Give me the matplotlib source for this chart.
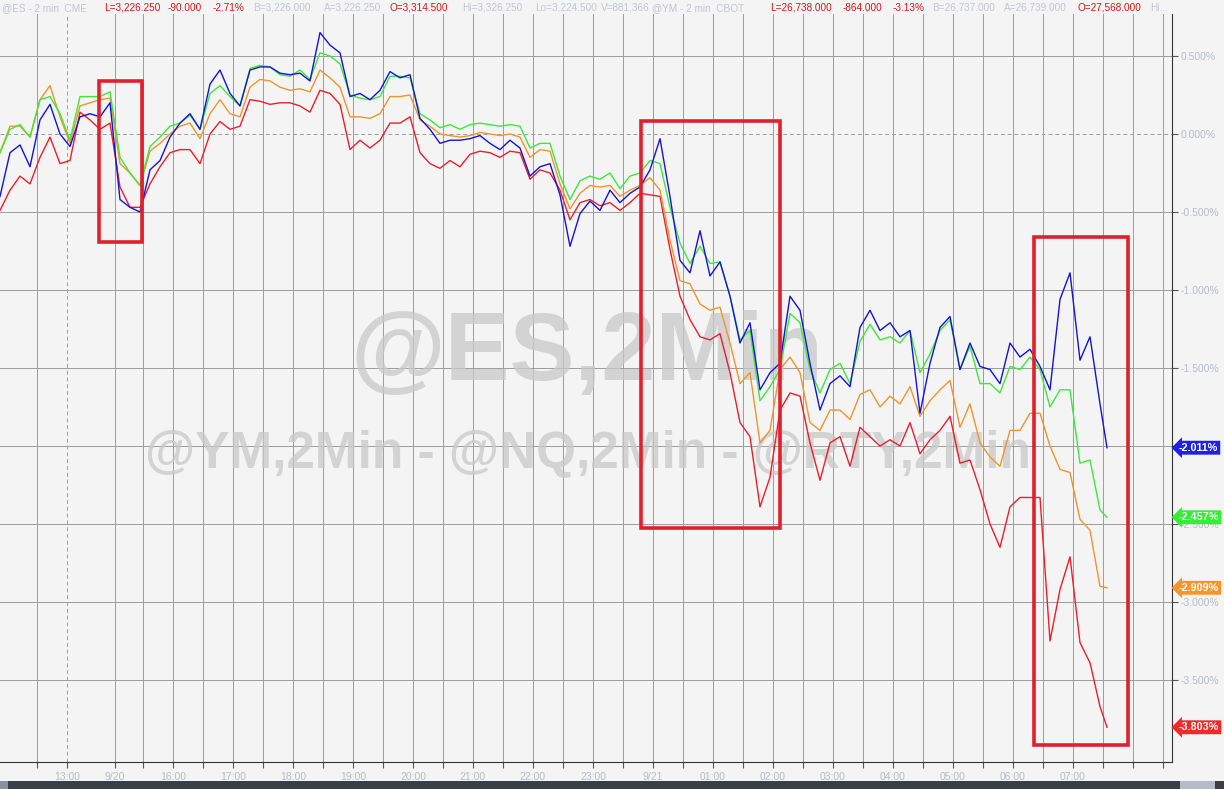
import matplotlib
matplotlib.use("Agg")
import matplotlib.pyplot as plt
from matplotlib.patches import Rectangle
from matplotlib.transforms import blended_transform_factory

# minutes from chart start (2-min bars, sampled every 10 min)
minutes = list(range(0, 1101, 10)) + [1107]

blue = [-0.40, -0.12, -0.07, -0.21, 0.09, 0.19, 0.00, -0.08, 0.11, 0.13,
        0.11, 0.20, -0.42, -0.47, -0.50, -0.23, -0.17, -0.02, 0.07, 0.13,
        0.03, 0.32, 0.41, 0.26, 0.18, 0.41, 0.43, 0.43, 0.39, 0.38,
        0.39, 0.34, 0.65, 0.57, 0.52, 0.24, 0.26, 0.22, 0.28, 0.40,
        0.36, 0.38, 0.10, 0.03, -0.06, -0.04, -0.04, -0.03, -0.01, -0.06,
        -0.10, -0.04, -0.09, -0.27, -0.21, -0.19, -0.39, -0.72, -0.51, -0.43,
        -0.49, -0.36, -0.44, -0.38, -0.34, -0.23, -0.03, -0.40, -0.81, -0.89,
        -0.62, -0.91, -0.82, -1.04, -1.34, -1.21, -1.64, -1.53, -1.47, -1.04,
        -1.13, -1.47, -1.77, -1.60, -1.55, -1.62, -1.24, -1.13, -1.26, -1.21,
        -1.30, -1.26, -1.79, -1.47, -1.24, -1.17, -1.51, -1.34, -1.49, -1.51,
        -1.60, -1.34, -1.43, -1.38, -1.49, -1.64, -1.06, -0.89, -1.45, -1.30,
        -1.73, -2.011]

green = [-0.12, 0.03, 0.06, -0.02, 0.22, 0.24, 0.13, -0.04, 0.24, 0.24,
         0.24, 0.27, -0.15, -0.25, -0.33, -0.08, -0.02, 0.05, 0.07, 0.12,
         0.03, 0.26, 0.31, 0.24, 0.18, 0.42, 0.44, 0.43, 0.38, 0.37,
         0.41, 0.35, 0.52, 0.50, 0.45, 0.25, 0.23, 0.22, 0.24, 0.37,
         0.37, 0.36, 0.13, 0.09, 0.04, 0.06, 0.03, 0.06, 0.07, 0.06,
         0.05, 0.06, 0.05, -0.09, -0.06, -0.06, -0.27, -0.42, -0.30, -0.27,
         -0.29, -0.25, -0.35, -0.27, -0.25, -0.17, -0.19, -0.47, -0.70, -0.83,
         -0.72, -0.83, -0.82, -1.04, -1.32, -1.26, -1.71, -1.62, -1.51, -1.15,
         -1.21, -1.51, -1.66, -1.51, -1.47, -1.60, -1.33, -1.22, -1.32, -1.30,
         -1.34, -1.26, -1.53, -1.41, -1.26, -1.19, -1.51, -1.36, -1.60, -1.60,
         -1.66, -1.49, -1.51, -1.43, -1.51, -1.75, -1.64, -1.64, -2.11, -2.09,
         -2.41, -2.457]

orange = [-0.12, 0.05, 0.05, -0.02, 0.22, 0.31, 0.11, -0.06, 0.18, 0.20,
          0.22, 0.23, -0.19, -0.25, -0.33, -0.11, -0.06, 0.00, 0.05, 0.07,
          -0.03, 0.13, 0.22, 0.13, 0.11, 0.30, 0.35, 0.34, 0.30, 0.28,
          0.29, 0.27, 0.41, 0.36, 0.30, 0.11, 0.11, 0.10, 0.13, 0.24,
          0.24, 0.25, 0.09, 0.05, 0.00, -0.01, -0.02, -0.01, 0.01, 0.00,
          -0.01, 0.00, -0.02, -0.15, -0.10, -0.11, -0.32, -0.48, -0.38, -0.33,
          -0.34, -0.33, -0.40, -0.36, -0.33, -0.28, -0.36, -0.68, -0.94, -0.96,
          -1.09, -1.13, -1.11, -1.34, -1.60, -1.53, -1.98, -1.90, -1.51, -1.43,
          -1.53, -1.85, -1.90, -1.77, -1.77, -1.83, -1.67, -1.64, -1.75, -1.68,
          -1.73, -1.62, -1.81, -1.71, -1.64, -1.58, -1.88, -1.73, -1.98, -2.07,
          -2.13, -1.90, -1.90, -1.79, -1.79, -2.00, -2.15, -2.17, -2.47, -2.54,
          -2.90, -2.909]

red = [-0.49, -0.36, -0.27, -0.32, -0.15, -0.02, -0.19, -0.17, 0.14, 0.09,
       0.03, 0.07, -0.34, -0.47, -0.47, -0.32, -0.21, -0.12, -0.10, -0.10,
       -0.19, 0.00, 0.08, 0.03, 0.05, 0.22, 0.21, 0.19, 0.20, 0.20,
       0.18, 0.14, 0.28, 0.26, 0.19, -0.10, -0.04, -0.09, -0.04, 0.07,
       0.07, 0.11, -0.12, -0.19, -0.22, -0.17, -0.21, -0.13, -0.11, -0.12,
       -0.15, -0.11, -0.12, -0.29, -0.23, -0.25, -0.36, -0.55, -0.44, -0.42,
       -0.46, -0.44, -0.49, -0.44, -0.38, -0.39, -0.40, -0.74, -1.04, -1.19,
       -1.30, -1.32, -1.28, -1.53, -1.85, -1.94, -2.39, -2.20, -1.77, -1.66,
       -1.68, -1.98, -2.22, -1.98, -1.94, -2.13, -1.88, -1.94, -2.00, -1.96,
       -2.00, -1.85, -2.05, -1.96, -1.90, -1.81, -2.11, -2.09, -2.28, -2.50,
       -2.65, -2.39, -2.33, -2.33, -2.33, -3.25, -2.92, -2.71, -3.26, -3.39,
       -3.67, -3.803]

series_colors = {"red": "#e8202a", "orange": "#f0942c", "green": "#3ee83a", "blue": "#1414d2"}
tag_colors = {"red": "#f02a2a", "orange": "#f5962d", "green": "#33ee33", "blue": "#2020e6"}

# time axis: minute offsets of ticks and their labels
tick_minutes = [37, 67, 115, 143] + list(range(173, 1170, 30))
tick_labels = {67: "13:00", 115: "9/20", 173: "16:00", 233: "17:00", 293: "18:00",
               353: "19:00", 413: "20:00", 473: "21:00", 533: "22:00", 593: "23:00",
               653: "9/21", 713: "01:00", 773: "02:00", 833: "03:00", 893: "04:00",
               953: "05:00", 1013: "06:00", 1073: "07:00"}
pct_ticks = [0.5, 0.0, -0.5, -1.0, -1.5, -2.0, -2.5, -3.0, -3.5]

# highlighted windows (start min, end min, top %, bottom %)
boxes = [(99, 142, 0.34, -0.69), (641, 780, 0.083, -2.526), (1034, 1128, -0.66, -3.917)]

header = [
    (2, "@ES - 2 min  CME", "grey"), (104, "L=3,226.250", "red"), (168, "-90.000", "red"),
    (213, "-2.71%", "red"), (253, "B=3,226.000", "grey"), (324, "A=3,226.250", "grey"),
    (390, "O=3,314.500", "red"), (462, "Hi=3,326.250", "grey"), (535, "Lo=3,224.500", "grey"),
    (601, "V=881,366", "grey"), (652, "@YM - 2 min  CBOT", "grey"), (770, "L=26,738.000", "red"),
    (843, "-864.000", "red"), (893, "-3.13%", "red"), (932, "B=26,737.000", "grey"),
    (1004, "A=26,739.000", "grey"), (1078, "O=27,568.000", "red"), (1150, "Hi...", "grey"),
]

plt.rcParams['font.family'] = ['Liberation Sans', 'DejaVu Sans']
BG = "#f4f4f4"
W, H = 1224, 789

fig = plt.figure(figsize=(W / 100, H / 100), dpi=100, facecolor=BG)
ax = fig.add_axes([0, 27 / H, 1172 / W, (762 - 14) / H], facecolor=BG)
ax.set_xlim(0, 1172)
ax.set_ylim((134 - 762) / 156, (134 - 14) / 156)

# grid
for m in tick_minutes:
    ax.axvline(m, color="#9c9c9c", lw=0.7, ls=(0, (4, 3)) if m == 67 else "-", zorder=0)
for p in pct_ticks:
    ax.axhline(p, color="#9c9c9c", lw=0.7, ls=(0, (4, 3)) if p == 0 else "-", zorder=0)

# watermark
ax.text(587 / W, 1 - 355 / H, "@ES,2Min", transform=fig.transFigure, ha="center",
        va="center", fontsize=70, fontweight="bold", color="#c9c9c9", alpha=0.75, zorder=1)
ax.text(588 / W, 1 - 455 / H, "@YM,2Min - @NQ,2Min - @RTY,2Min", transform=fig.transFigure,
        ha="center", va="center", fontsize=37, fontweight="bold", color="#c9c9c9",
        alpha=0.75, zorder=1)

for name, vals in [("red", red), ("orange", orange), ("green", green), ("blue", blue)]:
    ax.plot(minutes, vals, color=series_colors[name], lw=1.0, zorder=3)

for x0, x1, top, bot in boxes:
    ax.add_patch(Rectangle((x0, bot), x1 - x0, top - bot, fill=False,
                           ec="#e0202c", lw=2.6, zorder=4))

# axes styling
for s in ["top", "left"]:
    ax.spines[s].set_visible(False)
ax.spines["right"].set_color("#333333")
ax.spines["bottom"].set_color("#333333")
ax.yaxis.tick_right()
ax.set_yticks(pct_ticks)
ax.set_yticklabels([f"{p:.3f}%" for p in pct_ticks])
ax.tick_params(axis="y", colors="#555555", labelcolor="#b8bcc6", labelsize=7.5,
               length=4, pad=2)
ax.set_xticks(tick_minutes)
ax.set_xticklabels([tick_labels.get(m, "") for m in tick_minutes])
ax.tick_params(axis="x", colors="#555555", labelcolor="#b8bcc6", labelsize=7.5,
               length=4, pad=3)

# last value tags
trans = blended_transform_factory(ax.transAxes, ax.transData)
for name, vals in [("blue", blue), ("green", green), ("orange", orange), ("red", red)]:
    ax.text(1.006, vals[-1], f"{vals[-1]:.3f}%", transform=trans, ha="left", va="center",
            fontsize=7.8, fontweight="bold", color="white", zorder=6, clip_on=False,
            bbox=dict(boxstyle="larrow,pad=0.18", fc=tag_colors[name], ec="none"))

# header
for x, txt, c in header:
    fig.text(x / W, 1 - 8 / H, txt, ha="left", va="center", fontsize=7.2,
             color="#d01818" if c == "red" else "#c2c6ce")

# bottom bar
fig.patches.append(Rectangle((0, 0), 1, 8 / H, transform=fig.transFigure,
                             fc="#3a3f47", ec="none"))
fig.patches.append(Rectangle((0, 0), 8 / W, 8 / H, transform=fig.transFigure,
                             fc="#8a91a0", ec="none"))
fig.patches.append(Rectangle((1180 / W, 0), 35 / W, 8 / H, transform=fig.transFigure,
                             fc="#b6bbc7", ec="none"))

fig.savefig("out.png", dpi=100, facecolor=BG)
